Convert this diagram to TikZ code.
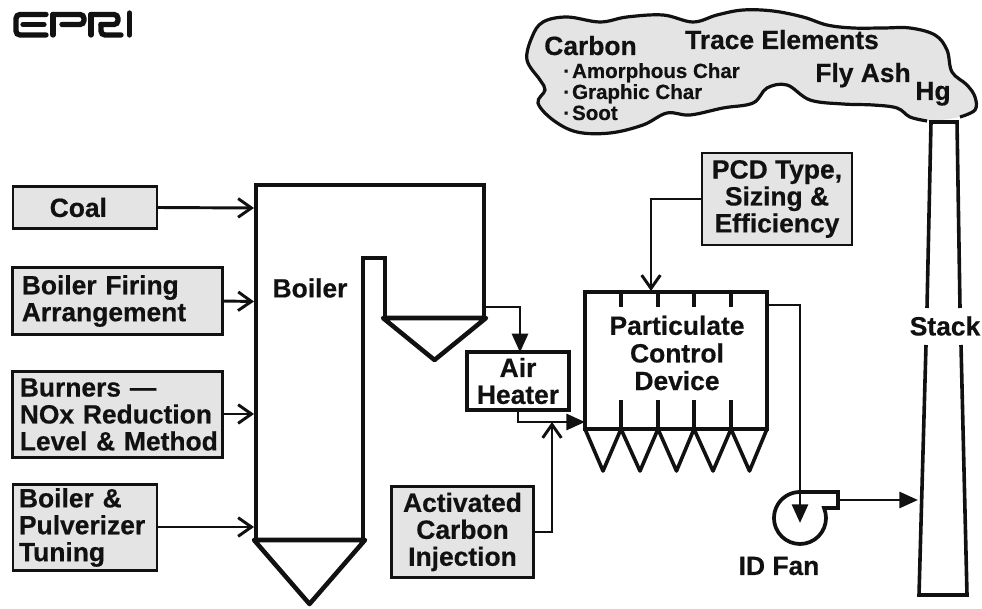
\documentclass[tikz,border=0pt]{standalone}
\usepackage{fontspec}
\setmainfont[BoldFeatures={FakeBold=0.5}]{Liberation Sans}
\usetikzlibrary{arrows.meta,calc}
\definecolor{boxgray}{HTML}{E4E4E4}
\definecolor{inkblack}{HTML}{111111}
\tikzset{
  every node/.style={text=inkblack},
  txt/.style={font=\bfseries\fontsize{19.8}{20.2}\selectfont,align=center,inner sep=0pt},
  small/.style={font=\bfseries\fontsize{15.4}{18}\selectfont,inner sep=0pt},
  graybox/.style={draw=inkblack,fill=boxgray,line width=2.2pt,font=\bfseries\fontsize{19.8}{20.2}\selectfont,inner ysep=0pt,outer sep=0pt},
  wall/.style={draw=inkblack,line width=3.4pt,line join=miter},
  thinwall/.style={draw=inkblack,line width=2.7pt,line join=miter},
  openarrow/.style={draw=inkblack,line width=2.2pt,-{Straight Barb[length=10pt,width=14pt,line width=2.2pt]}},
  fillarrow/.style={draw=inkblack,line width=2.2pt,-{Triangle[length=14pt,width=12pt,fill=inkblack]}},
  logo/.style={draw=inkblack,line width=4pt,line cap=round,rounded corners=3pt},
}
\begin{document}
\begin{tikzpicture}[x=0.75pt,y=-0.75pt]
\useasboundingbox (0,0) rectangle (982,609);

% logo
\draw[logo] (46,14.5) -- (16,14.5) -- (16,35) -- (46,35);
\draw[logo] (23,24.5) -- (44,24.5);
\draw[logo,rounded corners=0pt] (53,35) -- (53,14.5);
\draw[logo] (53,14.5) -- (84,14.5) -- (84,24.5) -- (62,24.5);
\draw[logo,rounded corners=0pt] (91,35) -- (91,14.5);
\draw[logo] (91,14.5) -- (118,14.5) -- (118,24.5) -- (101,24.5);
\draw[logo] (101,24.5) -- (101,35) -- (121,35);
\draw[logo,rounded corners=0pt] (129.5,35) -- (129.5,13);

% cloud
\path[fill=boxgray] plot[smooth cycle,tension=0.6] coordinates {
 (960,117) (975,110) (975,97) (967,85) (952,72) (947,50) (935,35) (910,28) (883,28)
 (853,28) (827,25) (803,17) (773,11) (743,10) (717,15) (693,22) (663,15) (627,17)
 (600,22) (567,17) (543,22) (532,37) (527,60) (540,80) (545,90) (538,103) (553,120)
 (577,132) (610,133) (643,125) (667,113) (690,115) (723,108) (753,103) (767,88)
 (787,85) (810,100) (843,104) (873,105) (897,108) (910,117) (927,121)};
\draw[draw=inkblack,line width=2.4pt] plot[smooth,tension=0.6] coordinates {
 (960,117) (975,110) (975,97) (967,85) (952,72) (947,50) (935,35) (910,28) (883,28)
 (853,28) (827,25) (803,17) (773,11) (743,10) (717,15) (693,22) (663,15) (627,17)
 (600,22) (567,17) (543,22) (532,37) (527,60) (540,80) (545,90) (538,103) (553,120)
 (577,132) (610,133) (643,125) (667,113) (690,115) (723,108) (753,103) (767,88)
 (787,85) (810,100) (843,104) (873,105) (897,108) (910,117) (927,121)};
\node[txt,anchor=base west] (carbon) at (544,55) {Carbon};
\node[txt,anchor=base] (trace) at (782,49) {Trace Elements};
\node[txt,anchor=base] (flyash) at (863,82) {Fly Ash};
\node[txt,anchor=base] (hg) at (933,100) {Hg};
\node[small,anchor=base west] (char1) at (563,78) {\textperiodcentered\hspace{1.5pt}Amorphous Char};
\node[small,anchor=base west] (char2) at (563,99) {\textperiodcentered\hspace{1.5pt}Graphic Char};
\node[small,anchor=base west] (char3) at (563,120) {\textperiodcentered\hspace{1.5pt}Soot};

% input boxes
\node[graybox,minimum width=108pt,minimum height=31pt,inner xsep=0pt,align=center] (coal) at (85,207.5) {\hspace*{-10pt}Coal};
\node[graybox,minimum width=157pt,minimum height=50pt,text width=143.5pt,inner xsep=6.75pt,align=left] (firing) at (117.5,301) {Boiler Firing\\Arrangement};
\node[graybox,minimum width=157pt,minimum height=65pt,text width=146.5pt,inner xsep=5.25pt,align=left] (burners) at (117.5,414.5) {\mbox{Burners —}\\\mbox{NOx Reduction}\\\mbox{Level \& Method}};
\node[graybox,minimum width=108pt,minimum height=65pt,text width=99pt,inner xsep=4.5pt,align=left] (tuning) at (85,527.5) {Boiler \&\\Pulverizer\\Tuning};
\node[graybox,minimum width=106pt,minimum height=68pt,inner xsep=0pt,align=center] (aci) at (462.5,532) {Activated\\Carbon\\Injection};
\node[graybox,minimum width=112.5pt,minimum height=69pt,inner xsep=0pt,align=center] (pcdtype) at (777,199) {PCD Type,\\Sizing \&\\Efficiency};

% boiler
\draw[wall] (256,540) -- (256,185) -- (484,185) -- (484,318);
\draw[wall] (363,540) -- (363,258) -- (385,258) -- (385,318);
\draw[wall,line join=round] (254,540) -- (365,540) -- (309.5,604) -- cycle;
\draw[wall,line join=round] (383,318) -- (486,318) -- (434.5,360) -- cycle;
\node[txt] (boiler) at (310,288) {Boiler};
\coordinate (boilerA) at (254,208);
\coordinate (boilerB) at (254,301.5);
\coordinate (boilerC) at (254,414);
\coordinate (boilerD) at (254,527);
\coordinate (boilerOut) at (484,307);

\draw[openarrow] (coal.east) -- (boilerA);
\draw[openarrow] (firing.east) -- (boilerB);
\draw[openarrow] (burners.east |- boilerC) -- (boilerC);
\draw[openarrow] (tuning.east |- boilerD) -- (boilerD);

% air heater
\node[draw=inkblack,line width=3pt,minimum width=76pt,minimum height=43pt,txt,outer sep=0pt] (heater) at (518,381) {Air\\Heater};
\draw[fillarrow] (boilerOut) -| (heater.north -| 520,0);

% PCD
\node[draw=inkblack,line width=3pt,minimum width=136.5pt,minimum height=103pt,outer sep=0pt] (pcd) at (676,360.5) {};
\node[txt,font=\bfseries\fontsize{19.8}{20.7}\selectfont] (pcdlabel) at (677,353) {Particulate\\Control\\Device};
\foreach \xx in {621,658,694,731}{
  \draw[draw=inkblack,line width=2.8pt] (\xx,292) -- (\xx,307);
  \draw[draw=inkblack,line width=2.8pt] (\xx,400) -- (\xx,429);
}
\draw[thinwall,line join=round] (585,429)--(603,471)--(621,429)--(640,471)--(658,429)--(676.5,471)--(694,429)--(713,471)--(731,429)--(749.5,471)--(767,429);
\coordinate (pcdIn) at (585,423);
\coordinate (pcdTop) at (651,291);
\coordinate (pcdOut) at (767,305);
\coordinate (heaterOut) at (518,410);
\coordinate (merge) at (552,422);

\draw[fillarrow] (heaterOut) -- (518,422) -- (pcdIn |- merge);
\draw[openarrow] (aci.east) -| (merge);
\draw[openarrow] (pcdtype.west) -| (pcdTop);

% fan
\draw[draw=inkblack,line width=2.8pt,line join=miter] (824,508) arc[start angle=22.6,end angle=-270,radius=19.5pt] -- (838,492) -- (838,508) -- cycle;
\node[txt] (idfan) at (779,566) {ID Fan};
\coordinate (fanIn) at (800,523);
\coordinate (fanOut) at (838,500);
\draw[fillarrow] (pcdOut) -| (fanIn);

% stack
\draw[thinwall] (927,308) -- (931,122) -- (957,122) -- (960,308);
\draw[thinwall] (926,345) -- (919,595) -- (967,595) -- (961,345);
\node[txt] (stack) at (945,326) {Stack};
\coordinate (stackIn) at (918,500);
\draw[fillarrow] (fanOut) -- (stackIn);
\end{tikzpicture}
\end{document}
